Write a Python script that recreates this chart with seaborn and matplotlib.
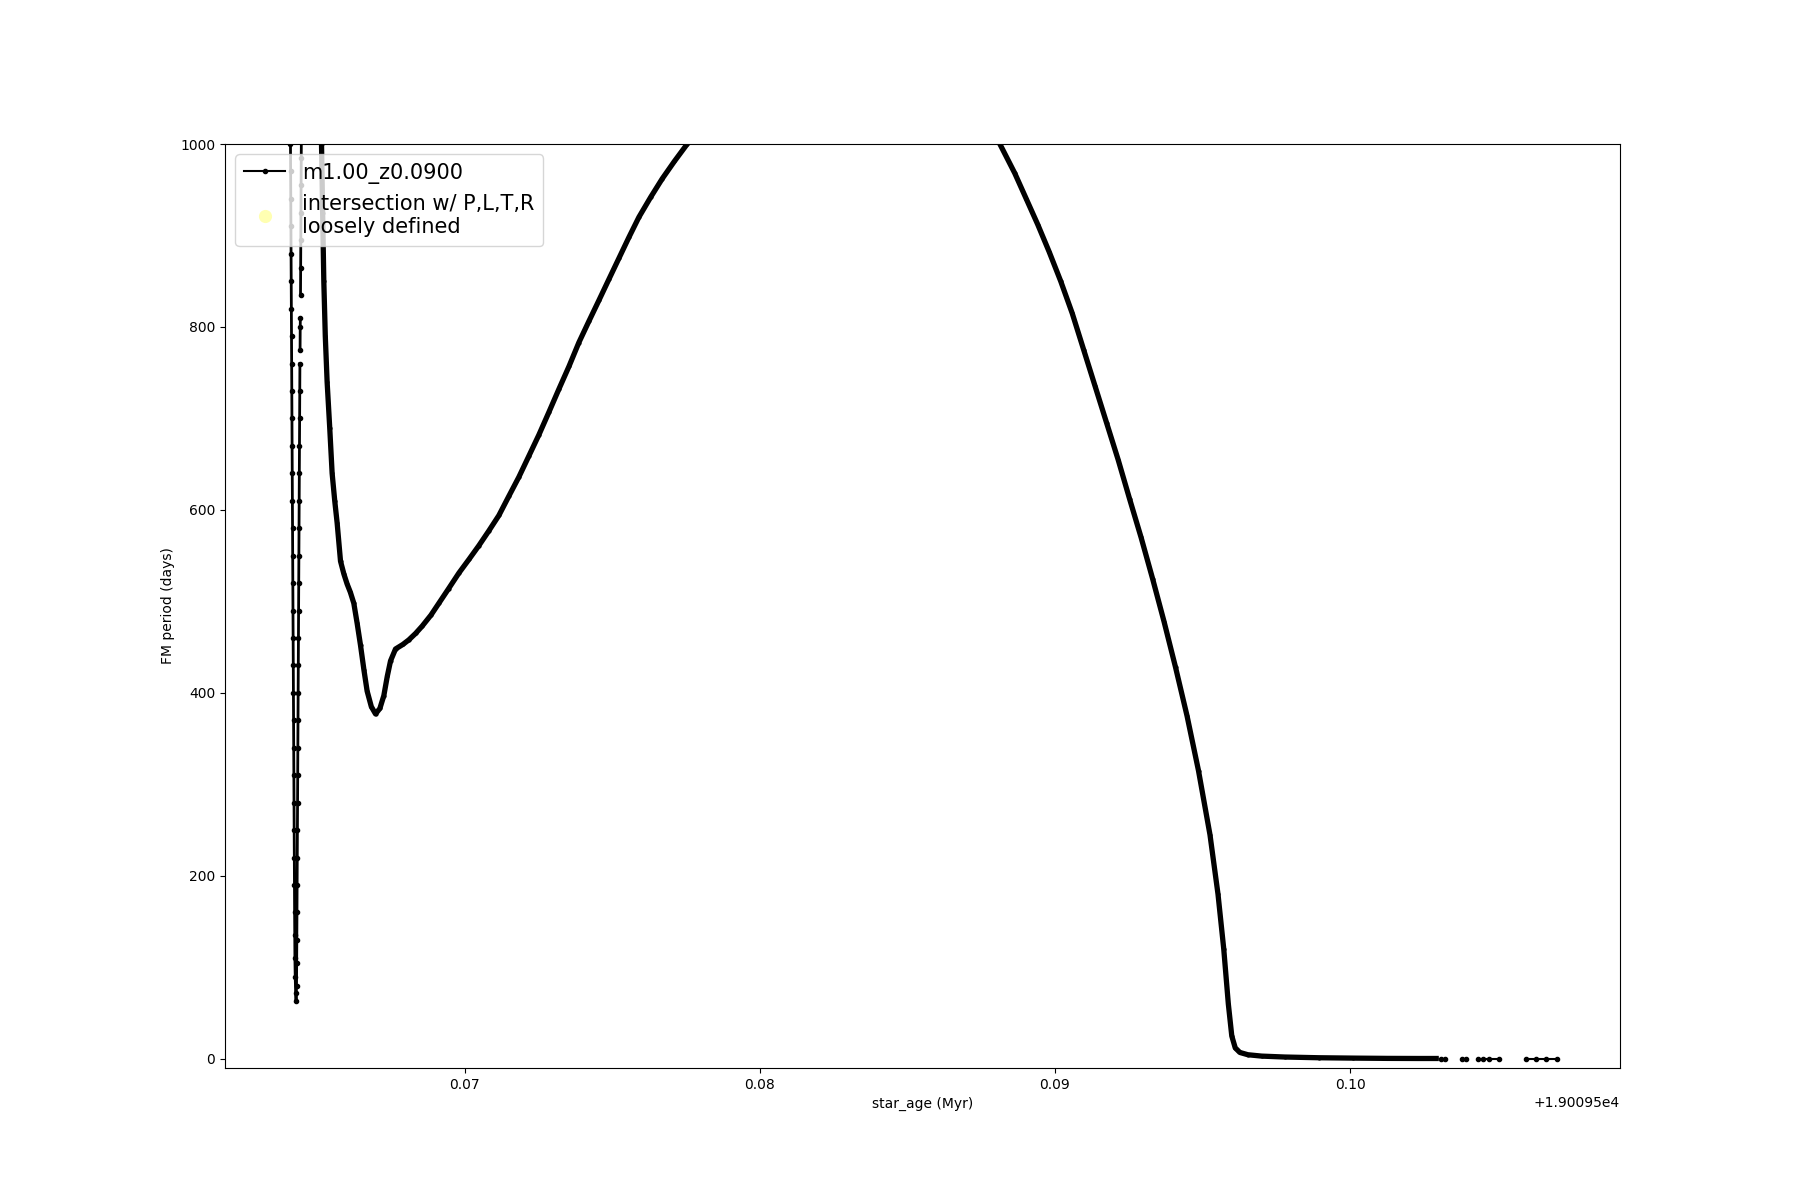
import matplotlib

matplotlib.use("Agg")
import matplotlib.pyplot as plt
import numpy as np
import pandas as pd
import seaborn as sns
from matplotlib.lines import Line2D

# star ages are stored as offsets (Myr) from this base value
AGE_BASE = 19009.5

# first rapid dip in the period (nan = no period found)
spike_age = [
    0.06402, 0.06406,
    0.064090, 0.064095, 0.064100, 0.064105, 0.064110, 0.064115, 0.064120,
    0.064125, 0.064130, 0.064135, 0.064140, 0.064145, 0.064150, 0.064155,
    0.064160, 0.064165, 0.064170, 0.064175, 0.064180, 0.064185, 0.064190,
    0.064195, 0.064200, 0.064205, 0.064210, 0.064215, 0.064220, 0.064225,
    0.064230, 0.064235, 0.064240, 0.064250, 0.064265, 0.064280,
    0.064295, 0.064300, 0.064305, 0.064310, 0.064315, 0.064320, 0.064325,
    0.064330, 0.064335, 0.064340, 0.064345, 0.064350, 0.064355, 0.064360,
    0.064365, 0.064370, 0.064375, 0.064380, 0.064385, 0.064390, 0.064395,
    0.064400, 0.064405, 0.064410, np.nan, 0.064415, 0.064420, 0.064425,
    np.nan, 0.064430, 0.064435, 0.064440, 0.064445, 0.064450, 0.064455,
    0.064460, 0.064480,
]
spike_period = [
    1350, 1150,
    1000, 970, 940, 910, 880, 850, 820,
    790, 760, 730, 700, 670, 640, 610,
    580, 550, 520, 490, 460, 430, 400,
    370, 340, 310, 280, 250, 220, 190,
    160, 135, 110, 90, 72, 63,
    80, 105, 130, 160, 190, 220, 250,
    280, 310, 340, 370, 400, 430, 460,
    490, 520, 550, 580, 610, 640, 670,
    700, 730, 760, np.nan, 775, 800, 810,
    np.nan, 835, 865, 895, 925, 955, 985,
    1015, 1300,
]

# main track: second drop, local minimum, rise, fall to ~0
main_age = [
    0.06500, 0.06509, 0.065142, 0.06518, 0.06522, 0.06527, 0.065332,
    0.06542, 0.065502, 0.06559, 0.065671, 0.065786, 0.06590, 0.066010,
    0.06612, 0.066237, 0.06635, 0.066464, 0.06658, 0.066688, 0.06683,
    0.066973, 0.06712, 0.067254, 0.06737, 0.067481, 0.067650, 0.06790,
    0.068102, 0.06833, 0.068553, 0.06885, 0.069119, 0.06945, 0.069797,
    0.07014, 0.070475, 0.07081, 0.071153, 0.07149, 0.071831, 0.07217,
    0.072508, 0.07285, 0.073186, 0.07353, 0.073864, 0.07420, 0.074542,
    0.07488, 0.075220, 0.07556, 0.075898, 0.07630, 0.076688, 0.07710,
    0.077536, 0.0790, 0.0810, 0.0830, 0.0850, 0.0870,
    0.088132, 0.088638, 0.089027, 0.089416, 0.089805, 0.090195, 0.090584,
    0.090973, 0.091362, 0.091751, 0.092140, 0.092529, 0.092918, 0.093307,
    0.093696, 0.094086, 0.094475, 0.094864, 0.095253, 0.095525, 0.095720,
    0.095875, 0.095992, 0.096109, 0.096265, 0.096537, 0.097004, 0.097782,
    0.098949, 0.100117, 0.101284, 0.102300, 0.102918,
]
main_period = [
    1400, 1100, 1000, 925, 850, 790, 740,
    690, 640, 610, 586, 544, 530, 519,
    510, 498, 476, 452, 425, 402, 385,
    377, 383, 397, 418, 435, 448, 453,
    458, 465, 473, 485, 498, 514, 531,
    546, 561, 577, 594, 615, 636, 659,
    682, 707, 732, 757, 783, 806, 829,
    852, 875, 898, 920, 942, 962, 981,
    1000, 1150, 1250, 1270, 1220, 1100,
    1000, 968, 940, 912, 882, 850, 815,
    775, 735, 695, 655, 612, 570, 525,
    478, 428, 375, 315, 245, 180, 120,
    60, 25, 12, 7, 4.5, 3, 2,
    1.2, 0.8, 0.5, 0.4, 0.4,
]

# scattered late points
tail_age = [
    0.10307, 0.10323, np.nan,
    0.10381, 0.10393, np.nan,
    0.10434, 0.10450, 0.10471, 0.10505, np.nan,
    0.10595, 0.10630, 0.10664, 0.10700,
]
tail_period = [
    0.3, 0.3, np.nan,
    0.3, 0.3, np.nan,
    0.3, 0.3, 0.3, 0.3, np.nan,
    0.3, 0.3, 0.3, 0.3,
]

MODEL_LABEL = "m1.00_z0.0900"
INTERSECTION_LABEL = "intersection w/ P,L,T,R\nloosely defined"


def to_frame(age, period):
    df = pd.DataFrame({
        "star_age": AGE_BASE + np.asarray(age, dtype=float),
        "period": np.asarray(period, dtype=float),
    })
    # every nan starts a new line piece
    df["seg"] = df["period"].isna().cumsum()
    return df.dropna()


def draw_track(ax, df, lw, mew=1):
    sns.lineplot(
        data=df,
        x="star_age",
        y="period",
        units="seg",
        estimator=None,
        sort=False,
        color="k",
        linewidth=lw,
        marker=".",
        markersize=6,
        markeredgecolor="k",
        markeredgewidth=mew,
        legend=False,
        ax=ax,
    )


def main():
    fig, ax = plt.subplots(figsize=(18, 12), dpi=100)

    draw_track(ax, to_frame(spike_age, spike_period), 2)
    draw_track(ax, to_frame(main_age, main_period), 3.8, mew=0)
    draw_track(ax, to_frame(tail_age, tail_period), 1.5)

    ax.set_ylim(-10, 1000)
    ax.set_xlabel("star_age (Myr)")
    ax.set_ylabel("FM period (days)")

    handles = [
        Line2D([], [], color="k", marker=".", linewidth=1.5, label=MODEL_LABEL),
        Line2D([], [], linestyle="none", marker="o", markersize=9.5,
               markerfacecolor="yellow", markeredgecolor="none", alpha=0.3,
               label=INTERSECTION_LABEL),
    ]
    ax.legend(handles=handles, loc="upper left", fontsize=15)

    fig.savefig("out.png", dpi=100)
    plt.close(fig)


if __name__ == "__main__":
    main()
